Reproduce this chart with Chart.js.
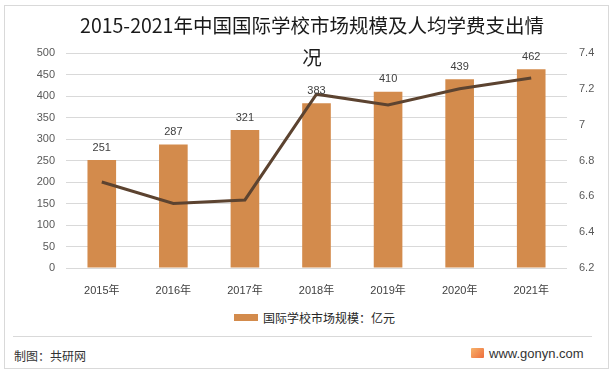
<!DOCTYPE html>
<html>
<head>
<meta charset="utf-8">
<script src="https://cdn.jsdelivr.net/npm/chart.js@4.4.0/dist/chart.umd.min.js"></script>
<style>
  body { margin: 0; background: #fff; width: 616px; height: 375px; position: relative; overflow: hidden; }
  .frame { position: absolute; left: 4px; top: 5px; width: 605px; height: 364px; box-sizing: border-box; border: 1px solid #d9d9d9; }
  #wrap { position: absolute; left: 0; top: 0; width: 616px; height: 300px; }
  .legend { position: absolute; left: 234px; top: 309px; height: 16px; display: flex; align-items: center;
    font: 12px "Noto Sans CJK SC", sans-serif; color: #262626; }
  .legend i { display: inline-block; width: 24px; height: 7px; background: #d38b4c; margin-right: 5px; }
  .sep { position: absolute; left: 13px; top: 336px; width: 579px; height: 1px; background: #d9d9d9; }
  .src { position: absolute; left: 14px; top: 347px; font: 12px "Noto Sans CJK SC", sans-serif; color: #333; line-height: 18px; }
  .logo { position: absolute; left: 471px; top: 348px; width: 13px; height: 10px; background: linear-gradient(135deg, #f7b36b, #ee6d3c); border-radius: 1px; }
  .site { position: absolute; left: 489px; top: 345px; font: 13px "Liberation Sans", sans-serif; color: #333; line-height: 17px; }
</style>
</head>
<body>
<div class="frame"></div>
<div id="wrap"><canvas id="mixChart"></canvas></div>
<div class="legend"><i></i>国际学校市场规模：亿元</div>
<div class="sep"></div>
<div class="src">制图：共研网</div>
<div class="logo"></div>
<div class="site">www.gonyn.com</div>
<script>
/* =========================
   DATA
========================= */
const years = ["2015年", "2016年", "2017年", "2018年", "2019年", "2020年", "2021年"];
const marketSize = [251, 287, 321, 383, 410, 439, 462];      // 亿元
const feePerHead = [6.68, 6.56, 6.58, 7.17, 7.11, 7.20, 7.26]; // 人均学费支出
const titleLines = ["2015-2021年中国国际学校市场规模及人均学费支出情", "况"];

const tickFont = { family: '"Liberation Sans", "Noto Sans CJK SC", sans-serif', size: 11 };

// value labels above bars
const barLabels = {
  id: "barLabels",
  afterDatasetsDraw(chart) {
    const { ctx } = chart;
    const meta = chart.getDatasetMeta(0);
    ctx.save();
    ctx.font = '11px "Liberation Sans", sans-serif';
    ctx.fillStyle = "#404040";
    ctx.textAlign = "center";
    ctx.textBaseline = "bottom";
    meta.data.forEach((bar, i) => {
      ctx.fillText(marketSize[i], bar.x, bar.y - 7);
    });
    ctx.restore();
  }
};

// two-line title, drawn over the plot like the original
const titleText = {
  id: "titleText",
  afterDraw(chart) {
    const { ctx } = chart;
    ctx.save();
    ctx.font = '19.5px "Noto Sans CJK SC", sans-serif';
    ctx.fillStyle = "#1a1a1a";
    ctx.textAlign = "center";
    ctx.textBaseline = "middle";
    ctx.fillText(titleLines[0], 312, 26);
    ctx.fillText(titleLines[1], 312, 58);
    ctx.restore();
  }
};

const ctx = document.getElementById("mixChart");

if (ctx) {
  new Chart(ctx, {
    data: {
      labels: years,
      datasets: [
        {
          type: "bar",
          label: "国际学校市场规模：亿元",
          data: marketSize,
          backgroundColor: "#d38b4c",
          barPercentage: 0.4,
          categoryPercentage: 1,
          yAxisID: "y",
          order: 2
        },
        {
          type: "line",
          label: "人均学费支出",
          data: feePerHead,
          borderColor: "#5c4330",
          borderWidth: 3,
          pointRadius: 0,
          tension: 0,
          yAxisID: "y1",
          order: 1
        }
      ]
    },
    options: {
      responsive: true,
      maintainAspectRatio: false,
      animation: false,
      layout: { padding: { top: 53, left: 0, right: 0, bottom: 0 } },
      plugins: {
        legend: { display: false },
        tooltip: { enabled: false }
      },
      scales: {
        x: {
          grid: { display: false },
          border: { display: false },
          ticks: { font: tickFont, color: "#404040", padding: 8 },
          afterFit: (s) => { s.height = 32; }
        },
        y: {
          position: "left",
          min: 0,
          max: 500,
          grid: { color: "#d9d9d9", drawTicks: false },
          border: { display: false },
          ticks: { stepSize: 50, font: tickFont, color: "#595959", padding: 11 },
          afterFit: (s) => { s.width = 66; }
        },
        y1: {
          position: "right",
          min: 6.2,
          max: 7.4,
          grid: { display: false, drawTicks: false },
          border: { display: false },
          ticks: {
            stepSize: 0.2,
            font: tickFont,
            color: "#595959",
            padding: 12,
            callback: (v) => Math.round(v * 10) / 10
          },
          afterFit: (s) => { s.width = 49; }
        }
      }
    },
    plugins: [barLabels, titleText]
  });
}
</script>
</body>
</html>
